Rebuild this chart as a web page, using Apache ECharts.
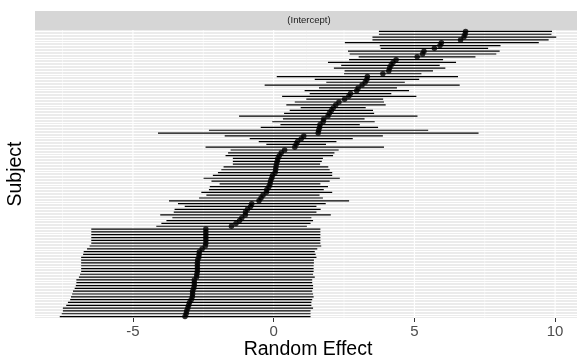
<!DOCTYPE html>
<html>
<head>
<meta charset="utf-8">
<script src="https://cdn.jsdelivr.net/npm/echarts@6/dist/echarts.min.js"></script>
<style>
  html, body { margin: 0; padding: 0; background: #fff; }
  #chart { width: 577px; height: 358px; }
</style>
</head>
<body>
<div id="chart"></div>
<script>
// conditional modes per subject, listed top (largest) to bottom (smallest)
var est = [
  6.82, 6.80, 6.76, 6.64, 5.96, 5.91, 5.71, 5.34, 5.29, 5.10,
  4.35, 4.24, 4.17, 4.12, 4.09, 3.88, 3.33, 3.31, 3.25, 3.14,
  3.00, 2.95, 2.73, 2.67, 2.52, 2.32, 2.21, 2.12, 2.05, 1.98,
  1.93, 1.78, 1.76, 1.65, 1.63, 1.60, 1.58, 1.07, 0.98, 0.85,
  0.80, 0.75, 0.39, 0.27, 0.20, 0.15, 0.13, 0.10, 0.08, 0.07,
  0.05, -0.04, -0.07, -0.11, -0.13, -0.17, -0.24, -0.26, -0.38, -0.45,
  -0.52, -0.78, -0.82, -0.93, -1.00, -1.01, -1.13, -1.21, -1.34, -1.50,
  -2.41, -2.41, -2.41, -2.41, -2.41, -2.41, -2.43, -2.54, -2.64, -2.65,
  -2.66, -2.70, -2.71, -2.71, -2.71, -2.71, -2.73, -2.74, -2.82, -2.82,
  -2.82, -2.84, -2.88, -2.88, -2.89, -2.93, -2.99, -3.02, -3.05, -3.09,
  -3.11, -3.15
];
var lower = [
  3.74, 3.74, 3.51, 3.51, 2.53, 3.77, 3.80, 2.64, 2.70, 3.02,
  2.68, 1.93, 2.40, 2.14, 2.52, 2.50, 0.11, 1.46, 1.87, -0.32,
  1.61, 1.10, 1.28, 0.30, 1.16, 0.75, 0.45, 0.96, 0.57, 0.37,
  -1.23, 0.33, -0.05, 0.24, -0.46, -2.30, -4.11, -1.74, -0.85, -0.53,
  -0.26, -2.42, -1.53, -1.62, -1.71, -1.45, -1.45, -1.45, -1.78, -1.86,
  -1.98, -2.16, -2.49, -2.21, -1.92, -2.27, -2.30, -2.57, -2.39, -2.65,
  -3.72, -3.40, -3.16, -3.52, -3.55, -4.03, -3.60, -3.81, -3.99, -4.17,
  -6.48, -6.48, -6.48, -6.48, -6.48, -6.48, -6.54, -6.63, -6.75, -6.77,
  -6.84, -6.84, -6.84, -6.84, -6.84, -6.84, -6.88, -6.92, -7.01, -7.01,
  -7.03, -7.07, -7.13, -7.16, -7.20, -7.23, -7.31, -7.37, -7.49, -7.49,
  -7.53, -7.60
];
var upper = [
  9.89, 9.87, 10.04, 9.77, 9.42, 8.06, 7.62, 8.03, 7.91, 7.17,
  6.02, 6.48, 5.90, 6.10, 5.66, 5.25, 6.55, 5.17, 4.66, 6.61,
  4.38, 4.81, 4.18, 5.07, 3.89, 3.92, 3.98, 3.27, 3.53, 3.57,
  5.11, 3.23, 3.59, 3.06, 3.71, 5.49, 7.28, 3.88, 2.81, 2.23,
  1.86, 3.92, 2.31, 2.16, 2.11, 1.75, 1.71, 1.65, 1.94, 1.99,
  2.08, 2.08, 2.35, 1.99, 1.66, 1.93, 1.78, 2.08, 1.63, 1.75,
  2.68, 1.85, 1.52, 1.67, 1.52, 2.03, 1.34, 1.40, 1.31, 1.18,
  1.66, 1.66, 1.66, 1.66, 1.66, 1.66, 1.69, 1.55, 1.46, 1.49,
  1.52, 1.43, 1.43, 1.42, 1.42, 1.42, 1.40, 1.46, 1.37, 1.37,
  1.40, 1.40, 1.37, 1.40, 1.42, 1.37, 1.34, 1.34, 1.40, 1.31,
  1.31, 1.31
];
var subjects = est.map(function (v, i) { return 'S' + (i + 1); });
var majorTicks = [-5, 0, 5, 10];
var minorTicks = [-7.5, -2.5, 2.5, 7.5];

var font = 'Liberation Sans, Arial, Helvetica, sans-serif';
var chart = echarts.init(document.getElementById('chart'));

var bars = est.map(function (v, i) { return [lower[i], upper[i], i]; });
var points = est.map(function (v, i) { return [v, i]; });
var grids = majorTicks.map(function (v) { return [v, 0, 1]; })
  .concat(minorTicks.map(function (v) { return [v, 0, 0]; }));

var option = {
  animation: false,
  backgroundColor: '#ffffff',
  textStyle: { fontFamily: font },
  grid: {
    left: 35, top: 30, width: 546, height: 288,
    outerBoundsMode: 'none', containLabel: false,
    show: true, backgroundColor: '#EBEBEB', borderWidth: 0
  },
  graphic: [
    { type: 'rect', left: 35, top: 11, shape: { width: 542, height: 19 },
      style: { fill: '#D6D6D6' }, z: 0 },
    { type: 'text', x: 309, y: 20.5,
      style: { text: '(Intercept)', fill: '#1A1A1A', font: '9.5px ' + font,
        align: 'center', verticalAlign: 'middle' } }
  ],
  xAxis: {
    type: 'value', min: -8.48, max: 10.92,
    name: 'Random Effect', nameLocation: 'middle', nameGap: 22,
    nameMoveOverlap: false,
    nameTextStyle: { fontSize: 19.5, color: '#000', fontFamily: font },
    axisLine: { show: false },
    axisTick: { show: true, length: 4, customValues: majorTicks,
      lineStyle: { color: '#333333', width: 1 } },
    axisLabel: { customValues: majorTicks, fontSize: 15, color: '#4D4D4D',
      margin: 6, fontFamily: font },
    splitLine: { show: false }
  },
  yAxis: {
    type: 'category', data: subjects, inverse: true,
    name: 'Subject', nameLocation: 'middle', nameGap: 9,
    nameMoveOverlap: false,
    nameTextStyle: { fontSize: 19.5, color: '#000', fontFamily: font },
    axisLine: { show: false }, axisTick: { show: false, interval: 0 },
    axisLabel: { show: false, interval: 0 },
    splitLine: { show: true, interval: 0, alignWithLabel: true,
      lineStyle: { color: '#FFFFFF', width: 1 } }
  },
  series: [
    {
      type: 'custom', z: 1, silent: true, data: grids,
      encode: { x: 0, y: 1 },
      renderItem: function (params, api) {
        var cs = params.coordSys;
        var x = api.coord([api.value(0), 0])[0];
        var major = api.value(2) === 1;
        return {
          type: 'line',
          shape: { x1: x, y1: cs.y, x2: x, y2: cs.y + cs.height },
          style: { stroke: '#FFFFFF', lineWidth: major ? 1.1 : 0.55 }
        };
      }
    },
    {
      type: 'custom', z: 2, silent: true, data: bars,
      encode: { x: [0, 1], y: 2 },
      renderItem: function (params, api) {
        var p1 = api.coord([api.value(0), api.value(2)]);
        var p2 = api.coord([api.value(1), api.value(2)]);
        return {
          type: 'line',
          shape: { x1: p1[0], y1: p1[1], x2: p2[0], y2: p2[1] },
          style: { stroke: '#000000', lineWidth: 1.2 }
        };
      }
    },
    {
      type: 'scatter', z: 3, silent: true, data: points,
      symbol: 'circle', symbolSize: 5.5,
      itemStyle: { color: '#000000' }
    }
  ]
};
chart.setOption(option);
</script>
</body>
</html>
